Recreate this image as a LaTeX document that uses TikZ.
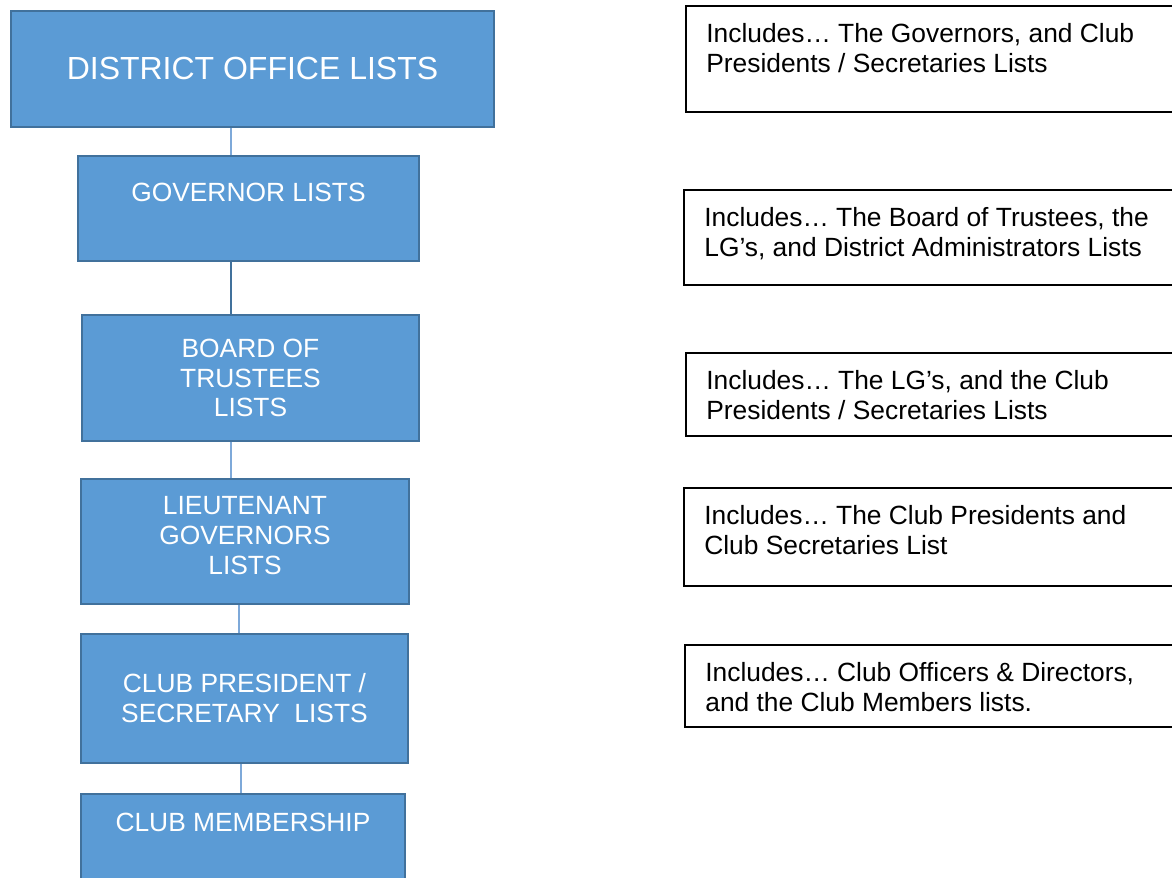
\documentclass[tikz,border=0pt]{standalone}
\usepackage{fontspec}
\setmainfont{Liberation Sans}
\usetikzlibrary{positioning}
\definecolor{officeblue}{HTML}{5B9BD5}
\definecolor{officeedge}{HTML}{41719C}
\definecolor{linkblue}{HTML}{7EA9D9}

\begin{document}
\begin{tikzpicture}[
  listbox/.style={draw=officeedge, fill=officeblue, line width=1.1pt, anchor=north west,
    inner sep=0pt, text=white, align=center, font=\fontsize{15}{17}\selectfont},
  listtext/.style={text=white, align=center, inner sep=0pt, font=\fontsize{15}{17}\selectfont},
  notebox/.style={draw=black, line width=0.9pt, anchor=north west, minimum width=12cm, inner sep=0pt},
  notetext/.style={anchor=north west, inner sep=0pt, align=left, font=\fontsize{15}{17}\selectfont},
  link/.style={draw=linkblue, line width=0.8pt}
]
\useasboundingbox (0,0) rectangle (23.44,-17.54);
\clip (0,0) rectangle (23.44,-17.54);

% Lists column
\node[listbox, minimum width=9.66cm, minimum height=2.32cm, font=\fontsize{18.2}{21}\selectfont]
  (district) at (0.20,-0.20) {DISTRICT OFFICE LISTS};
\node[listbox, minimum width=6.82cm, minimum height=2.10cm] (gov) at (1.54,-3.10) {};
\node[listtext] (govtxt) at ([yshift=-0.74cm]gov.north) {GOVERNOR LISTS};
\node[listbox, minimum width=6.74cm, minimum height=2.52cm] (board) at (1.62,-6.28) {BOARD OF\\TRUSTEES\\LISTS};
\node[listbox, minimum width=6.56cm, minimum height=2.50cm] (lieut) at (1.60,-9.56) {};
\node[listtext] (lieuttxt) at ([yshift=0.12cm]lieut.center) {LIEUTENANT\\GOVERNORS\\LISTS};
\node[listbox, minimum width=6.54cm, minimum height=2.58cm] (clubpres) at (1.60,-12.66) {CLUB PRESIDENT /\\SECRETARY\ \ LISTS};
\node[listbox, minimum width=6.48cm, minimum height=2.60cm] (members) at (1.60,-15.86) {};
\node[listtext] (memberstxt) at ([yshift=-0.58cm]members.north) {CLUB MEMBERSHIP};

% Connectors
\draw[link] (4.62,0 |- district.south) -- (4.62,0 |- gov.north);
\draw[link, draw=officeedge] (4.62,0 |- gov.south) -- (4.62,0 |- board.north);
\draw[link] (4.62,0 |- board.south) -- (4.62,0 |- lieut.north);
\draw[link] (4.78,0 |- lieut.south) -- (4.78,0 |- clubpres.north);
\draw[link] (4.82,0 |- clubpres.south) -- (4.82,0 |- members.north);

% Notes
\foreach \n/\x/\y/\h/\txt in {
    govnote/13.70/-0.10/2.12/{Includes… The Governors, and Club\\Presidents / Secretaries Lists},
    boardnote/13.66/-3.78/1.90/{Includes… The Board of Trustees, the\\LG’s, and District Administrators Lists},
    lgnote/13.70/-7.04/1.66/{Includes… The LG’s, and the Club\\Presidents / Secretaries Lists},
    clubnote/13.66/-9.74/1.96/{Includes… The Club Presidents and\\Club Secretaries List},
    membernote/13.68/-12.88/1.64/{Includes… Club Officers \& Directors,\\and the Club Members lists.}} {
  \node[notebox, minimum height=\h cm] (\n) at (\x,\y) {};
  \node[notetext] (\n txt) at ([xshift=0.42cm, yshift=-0.36cm]\n.north west) {\txt};
}
\end{tikzpicture}
\end{document}
